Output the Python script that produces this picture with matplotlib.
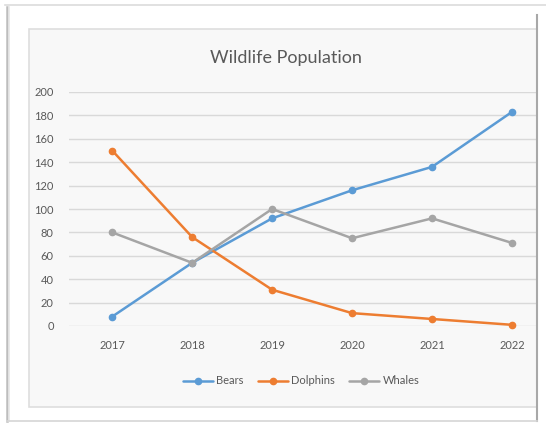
import matplotlib
matplotlib.use("Agg")
import matplotlib.pyplot as plt
from matplotlib.patches import Rectangle
from matplotlib.lines import Line2D

years = ["2017", "2018", "2019", "2020", "2021", "2022"]
bears = [8, 54, 92, 116, 136, 183]
dolphins = [150, 76, 31, 11, 6, 1]
whales = [80, 54, 100, 75, 92, 71]

series_names = ["Bears", "Dolphins", "Whales"]
series_colors = ["#5B9BD5", "#ED7D31", "#A5A5A5"]

W, H = 546, 424
plt.rcParams['font.family'] = ['Lato', 'DejaVu Sans']

fig = plt.figure(figsize=(W / 100, H / 100), dpi=100)
fig.patch.set_facecolor("white")


def fx(x):
    return x / W


def fy(y):
    return 1 - y / H


# outer frame edges
fig.add_artist(Line2D([fx(5), fx(546)], [fy(5), fy(5)], color="#dcdcdc", lw=1.2))
fig.add_artist(Line2D([fx(7), fx(7)], [fy(7), fy(421)], color="#bdbdbd", lw=1.8))
fig.add_artist(Line2D([fx(9), fx(9)], [fy(7), fy(421)], color="#e6e6e6", lw=1.2))
fig.add_artist(Line2D([fx(537), fx(537)], [fy(15), fy(421)], color="#a8a8a8", lw=1.5))
fig.add_artist(Line2D([fx(7), fx(537)], [fy(421), fy(421)], color="#d6d6d6", lw=1.2))

# chart area
fig.add_artist(Rectangle((fx(29), fy(407)), fx(537) - fx(29), fy(29) - fy(407),
                         facecolor="#f8f8f8", edgecolor="#dedede", lw=1.2,
                         transform=fig.transFigure, zorder=0))

ax = fig.add_axes([fx(69), fy(326), fx(536) - fx(69), fy(92) - fy(326)])
ax.set_facecolor("none")

x = list(range(len(years)))
for vals, name, col in zip([bears, dolphins, whales], series_names, series_colors):
    ax.plot(x, vals, color=col, lw=1.8, marker="o", markersize=4.5,
            label=name, solid_capstyle="round", clip_on=False, zorder=3)

ax.set_xlim(-0.54, 5.3)
ax.set_ylim(0, 200)
ax.set_yticks(range(0, 201, 20))
ax.set_xticks(x)
ax.set_xticklabels(years)
ax.yaxis.grid(True, color="#d9d9d9", lw=1.0)
ax.set_axisbelow(True)
for s in ax.spines.values():
    s.set_visible(False)
ax.tick_params(length=0, labelsize=8, colors="#595959", pad=10)
ax.tick_params(axis="y", pad=11)

fig.text(fx(286), fy(58), "Wildlife Population", ha="center", va="center",
         fontsize=13, color="#595959")

fig.legend(loc="center", bbox_to_anchor=(fx(301), fy(381)), ncol=3, frameon=False,
           fontsize=8, handlelength=2.7, handletextpad=0.3, columnspacing=1.3,
           labelcolor="#595959")

fig.savefig("out.png", dpi=100)
